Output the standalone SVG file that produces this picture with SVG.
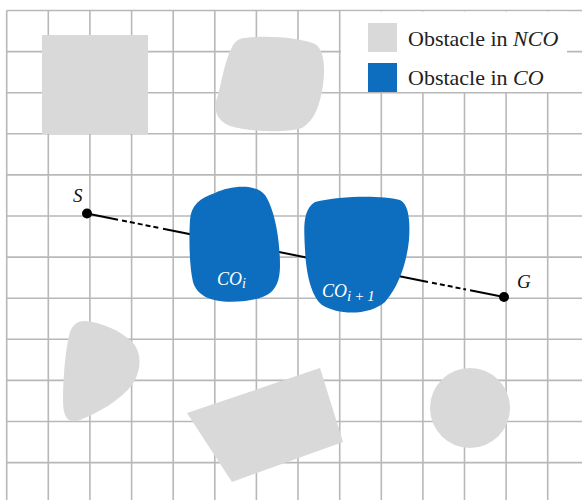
<svg xmlns="http://www.w3.org/2000/svg" width="582" height="500" viewBox="0 0 582 500">
  <style>
    .grid line { stroke: #b8b8b8; stroke-width: 1.6; }
    .nco { fill: #d9d9d9; }
    .co { fill: #0d6ebf; }
    .path { stroke: #000; stroke-width: 2; fill: none; }
    .dash { stroke-dasharray: 5 3; }
    .dot { fill: #000; }
    .legend-text { font-family: "Liberation Serif", "Times New Roman", serif; font-size: 22px; fill: #222; }
    .math { font-family: "Liberation Serif", "Times New Roman", serif; font-style: italic; }
    .lbl { font-size: 19px; fill: #111; }
    .colbl { font-size: 18px; fill: #fff; }
  </style>
  <rect width="582" height="500" fill="#fff"/>

  <!-- square grid -->
  <g class="grid">
    <line x1="6.7" y1="10.5" x2="6.7" y2="500"/>
    <line x1="48.3" y1="10.5" x2="48.3" y2="500"/>
    <line x1="89.9" y1="10.5" x2="89.9" y2="500"/>
    <line x1="131.6" y1="10.5" x2="131.6" y2="500"/>
    <line x1="173.2" y1="10.5" x2="173.2" y2="500"/>
    <line x1="214.8" y1="10.5" x2="214.8" y2="500"/>
    <line x1="256.4" y1="10.5" x2="256.4" y2="500"/>
    <line x1="298.0" y1="10.5" x2="298.0" y2="500"/>
    <line x1="339.7" y1="10.5" x2="339.7" y2="500"/>
    <line x1="381.3" y1="10.5" x2="381.3" y2="500"/>
    <line x1="422.9" y1="10.5" x2="422.9" y2="500"/>
    <line x1="464.5" y1="10.5" x2="464.5" y2="500"/>
    <line x1="506.1" y1="10.5" x2="506.1" y2="500"/>
    <line x1="547.7" y1="10.5" x2="547.7" y2="500"/>
    <line x1="6.7" y1="10.5" x2="582" y2="10.5"/>
    <line x1="6.7" y1="51.6" x2="582" y2="51.6"/>
    <line x1="6.7" y1="92.7" x2="582" y2="92.7"/>
    <line x1="6.7" y1="133.8" x2="582" y2="133.8"/>
    <line x1="6.7" y1="174.9" x2="582" y2="174.9"/>
    <line x1="6.7" y1="216.0" x2="582" y2="216.0"/>
    <line x1="6.7" y1="257.1" x2="582" y2="257.1"/>
    <line x1="6.7" y1="298.2" x2="582" y2="298.2"/>
    <line x1="6.7" y1="339.3" x2="582" y2="339.3"/>
    <line x1="6.7" y1="380.4" x2="582" y2="380.4"/>
    <line x1="6.7" y1="421.5" x2="582" y2="421.5"/>
    <line x1="6.7" y1="462.6" x2="582" y2="462.6"/>
  </g>

  <!-- legend -->
  <g id="legend">
    <rect x="341" y="11.5" width="226" height="80.5" fill="#fff"/>
    <rect class="nco" x="368" y="23" width="29" height="29"/>
    <rect class="co" x="368" y="63" width="29" height="29"/>
    <text class="legend-text" x="408" y="45.5">Obstacle in <tspan font-style="italic">NCO</tspan></text>
    <text class="legend-text" x="408" y="85">Obstacle in <tspan font-style="italic">CO</tspan></text>
  </g>

  <!-- obstacles not on the path -->
  <g id="nco-square"><rect class="nco" x="42" y="35" width="106" height="99"/></g>
  <g id="nco-blob-top">
    <path class="nco" d="M245 38 C270 35 300 38 315 44 C325 50 325 70 323 85 C320 105 315 120 302 128 C285 133 250 132 230 126 C215 120 213 108 218 95 C222 80 225 60 232 47 C236 40 240 38 245 38 Z"/>
  </g>
  <g id="nco-blob-left">
    <path class="nco" d="M85 321 C100 322 120 330 132 342 C142 352 142 370 132 385 C120 400 100 412 80 420 C68 424 63 418 63 400 C63 380 65 350 70 332 C73 324 78 321 85 321 Z"/>
  </g>
  <g id="nco-quad"><polygon class="nco" points="187,413 320,368 343,442 232,482"/></g>
  <g id="nco-circle"><circle class="nco" cx="470" cy="408" r="40"/></g>

  <!-- straight path from S to G -->
  <g id="connectors">
    <line class="path" x1="87" y1="213.5" x2="118" y2="219.7"/>
    <line class="path dash" x1="122" y1="220.5" x2="160" y2="228.1"/>
    <line class="path" x1="163" y1="228.7" x2="428" y2="281.9"/>
    <line class="path dash" x1="432" y1="282.7" x2="466" y2="289.5"/>
    <line class="path" x1="470" y1="290.3" x2="504" y2="297"/>
  </g>

  <!-- obstacles on the path -->
  <g id="co-i">
    <path class="co" d="M215 193 C230 186 255 183 265 195 C275 210 280 240 280 265 C280 290 270 298 245 301 C215 304 198 298 193 282 C189 265 189 235 190 220 C191 205 200 198 215 193 Z"/>
    <text class="math colbl" x="217" y="285">CO<tspan font-size="14" dy="3">i</tspan></text>
  </g>
  <g id="co-i1">
    <path class="co" d="M315 202 C340 196 380 195 400 200 C410 205 410 225 409 240 C407 260 400 285 385 302 C370 315 340 316 322 305 C310 295 306 270 305 250 C304 230 302 210 315 202 Z"/>
    <text class="math colbl" x="322" y="297">CO<tspan font-size="15" dy="4" letter-spacing="3">i+1</tspan></text>
  </g>

  <g id="start">
    <circle class="dot" cx="87" cy="213.5" r="5"/>
    <text class="math lbl" x="73" y="202">S</text>
  </g>
  <g id="goal">
    <circle class="dot" cx="504" cy="297" r="5"/>
    <text class="math lbl" x="517" y="288">G</text>
  </g>
</svg>
